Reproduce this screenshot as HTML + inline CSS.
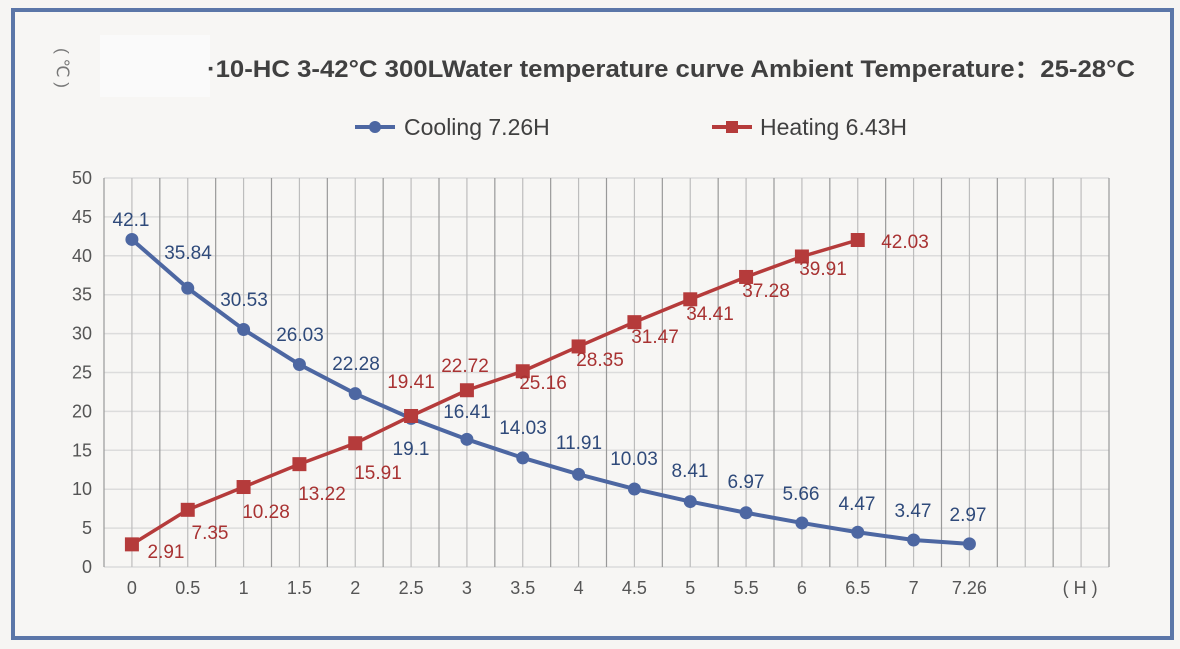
<!DOCTYPE html>
<html><head><meta charset="utf-8"><style>
html,body{margin:0;padding:0;background:#f6f5f3;}
svg{display:block;font-family:"Liberation Sans","DejaVu Sans",sans-serif;}
</style></head><body>
<svg width="1180" height="649" viewBox="0 0 1180 649" xmlns="http://www.w3.org/2000/svg">
<rect x="0" y="0" width="1180" height="649" fill="#f6f5f3"/>
<rect x="13" y="10" width="1159" height="628" fill="#f7f6f4" stroke="#5b76a8" stroke-width="4"/>
<rect x="100" y="35" width="110" height="62" fill="#fafafa"/>
<g id="grid"></g>
<text x="57" y="68" font-size="17" fill="#777" transform="rotate(90 57 68)" text-anchor="middle">( ℃ )</text>
<text x="207" y="77" font-size="24" fill="#404040" font-weight="bold" textLength="928" lengthAdjust="spacingAndGlyphs">·10-HC 3-42°C 300LWater temperature curve  Ambient Temperature：25-28°C</text>
<line x1="355" y1="127" x2="395" y2="127" stroke="#4d67a2" stroke-width="4"/>
<circle cx="375" cy="127" r="6" fill="#4d67a2"/>
<text x="404" y="135" font-size="23" fill="#404040">Cooling 7.26H</text>
<line x1="712" y1="127" x2="752" y2="127" stroke="#b53b3b" stroke-width="4"/>
<rect x="726" y="121" width="12" height="12" fill="#b53b3b"/>
<text x="760" y="135" font-size="23" fill="#404040">Heating 6.43H</text>
<g id="plot"></g>
</svg>
<script>
var NS="http://www.w3.org/2000/svg";
function el(p,t,a,txt){var e=document.createElementNS(NS,t);for(var k in a)e.setAttribute(k,a[k]);if(txt!==undefined)e.textContent=txt;p.appendChild(e);return e;}
var g=document.getElementById('grid'),pl=document.getElementById('plot');
var L=104,R=1109,T=178,B=567,cw=(R-L)/18;
function X(i){return L+cw*(i+0.5);}
function Y(v){return B-(B-T)*v/50;}
for(var v=0;v<=50;v+=5){el(g,'line',{x1:L,x2:R,y1:Y(v),y2:Y(v),stroke:'#dcdcdc','stroke-width':1.5});
el(g,'text',{x:92,y:Y(v)+6,'font-size':18,fill:'#555','text-anchor':'end'},v);}
for(var k=0;k<=36;k++){var x=L+cw/2*k;el(g,'line',{x1:x,x2:x,y1:T,y2:B,stroke:k%2?'#bdbdbd':'#999','stroke-width':1.2});}
var cats=['0','0.5','1','1.5','2','2.5','3','3.5','4','4.5','5','5.5','6','6.5','7','7.26'];
cats.forEach(function(c,i){el(g,'text',{x:X(i),y:594,'font-size':18,fill:'#555','text-anchor':'middle'},c);});
el(g,'text',{x:X(17)-1,y:594,'font-size':18,fill:'#555','text-anchor':'middle'},'( H )');
var cool=[42.1,35.84,30.53,26.03,22.28,19.1,16.41,14.03,11.91,10.03,8.41,6.97,5.66,4.47,3.47,2.97];
var heat=[2.91,7.35,10.28,13.22,15.91,19.41,22.72,25.16,28.35,31.47,34.41,37.28,39.91,42.03];
el(pl,'polyline',{points:cool.map(function(v,i){return X(i)+','+Y(v)}).join(' '),fill:'none',stroke:'#4d67a2','stroke-width':4});
el(pl,'polyline',{points:heat.map(function(v,i){return X(i)+','+Y(v)}).join(' '),fill:'none',stroke:'#b53b3b','stroke-width':3.5});
cool.forEach(function(v,i){el(pl,'circle',{cx:X(i),cy:Y(v),r:6.5,fill:'#4d67a2'});});
heat.forEach(function(v,i){el(pl,'rect',{x:X(i)-7,y:Y(v)-7,width:14,height:14,fill:'#b53b3b'});});
var cl=[[131,226],[188,259],[244,306],[300,341],[356,370],[411,455],[467,418],[523,434],[579,449],[634,465],[690,477],[746,488],[801,500],[857,510],[913,517],[968,521]];
var hl=[[166,558],[210,539],[266,518],[322,500],[378,479],[411,388],[465,372],[543,389],[600,366],[655,343],[710,320],[766,297],[823,275],[905,248]];
cool.forEach(function(v,i){el(pl,'text',{x:cl[i][0],y:cl[i][1],'font-size':19,fill:'#2f4a7a','text-anchor':'middle'},String(v));});
heat.forEach(function(v,i){el(pl,'text',{x:hl[i][0],y:hl[i][1],'font-size':19,fill:'#a83232','text-anchor':'middle'},String(v));});
</script>
</body></html>
